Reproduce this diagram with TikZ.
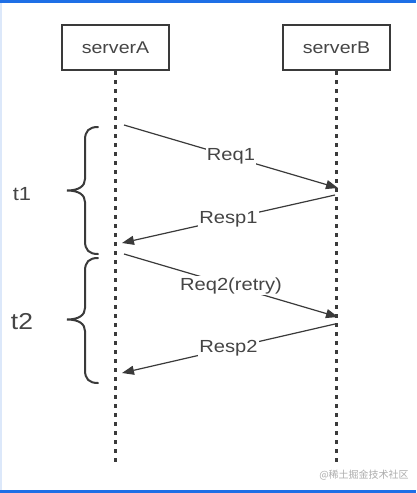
\documentclass[tikz,border=0pt]{standalone}
\usepackage{fontspec}
\setmainfont{Liberation Sans}[FakeStretch=1.15]
\newfontfamily\cjk{Noto Sans CJK SC}
\usetikzlibrary{arrows.meta}
\definecolor{ink}{HTML}{3A3A3A}
\definecolor{txt}{HTML}{454545}
\definecolor{topblue}{HTML}{1E6FE6}
\definecolor{sideblue}{HTML}{DCE8FA}
\tikzset{
  server/.style={draw=ink, line width=2pt, minimum width=107pt, minimum height=45pt,
    inner sep=0pt, text=txt, font=\fontsize{17}{20}\selectfont},
  lifeline/.style={draw=ink, line width=3pt, dash pattern=on 3.5pt off 5.5pt},
  msg/.style={draw=ink, line width=1.2pt, -{Triangle[length=12pt,width=9pt]}},
  msglabel/.style={fill=white, inner sep=1pt, text=txt, font=\fontsize{17.5}{20}\selectfont},
  bracepath/.style={draw=ink, line width=2pt, line cap=round},
  tlabel/.style={text=txt, inner sep=0pt}
}
\begin{document}
\begin{tikzpicture}[x=1pt,y=-1pt]
\useasboundingbox (0,0) rectangle (416,493);
\fill[white] (0,0) rectangle (416,493);
\fill[sideblue] (0,0) rectangle (2,493);
\fill[topblue] (0,0) rectangle (416,3);
\fill[topblue] (0,490) rectangle (416,493);

\node[server] (A) at (115.5,47.5) {serverA};
\node[server] (B) at (336.5,47.5) {serverB};
\coordinate (Aend) at (115,462);
\coordinate (Bend) at (336,462);
\draw[lifeline] (A.south -| Aend) -- (Aend);
\draw[lifeline] (B.south -| Bend) -- (Bend);

\coordinate (r1s) at (124,125);
\coordinate (r1e) at (338,188);
\coordinate (p1s) at (335,195);
\coordinate (p1e) at (122,243);
\coordinate (r2s) at (124,254);
\coordinate (r2e) at (338,317);
\coordinate (p2s) at (335,324);
\coordinate (p2e) at (122,373);

\draw[msg] (r1s) -- node[msglabel] (l1) {Req1} (r1e);
\draw[msg] (p1s) -- node[msglabel] (l2) {Resp1} (p1e);
\draw[msg] (r2s) -- node[msglabel] (l3) {Req2(retry)} (r2e);
\draw[msg] (p2s) -- node[msglabel] (l4) {Resp2} (p2e);

% brace t1
\draw[bracepath] (98,127) .. controls (89,127) and (85,131) .. (85,140) -- (85,179)
  .. controls (85,186) and (79,190.5) .. (67,190.5)
  .. controls (79,190.5) and (85,195) .. (85,202) -- (85,241)
  .. controls (85,250) and (89,254) .. (98,254);
% brace t2
\draw[bracepath] (98,258) .. controls (89,258) and (85,262) .. (85,271) -- (85,308)
  .. controls (85,315) and (79,319.5) .. (67,319.5)
  .. controls (79,319.5) and (85,324) .. (85,331) -- (85,370)
  .. controls (85,379) and (89,383) .. (98,383);

\node[tlabel, font=\fontsize{19}{22}\selectfont] (t1) at (22,194) {t1};
\node[tlabel, font=\fontsize{23}{26}\selectfont] (t2) at (22,322) {t2};

\node[text=black!32, inner sep=0pt, font=\cjk\fontsize{10}{12}\selectfont] (wm) at (364,475) {@稀土掘金技术社区};
\end{tikzpicture}
\end{document}
